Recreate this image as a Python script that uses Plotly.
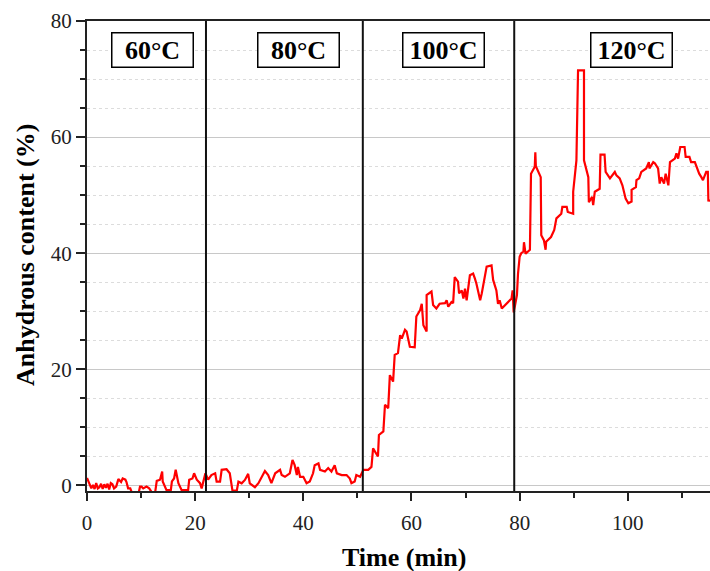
import plotly.graph_objects as go

# Time (min) and anhydrous content (%)
time_min = [
    0.0, 0.3, 0.55, 0.8, 1.1, 1.4, 1.7, 2.0, 2.3, 2.6, 2.9, 3.2, 3.5, 3.8, 4.1, 4.4, 4.7, 5.0, 5.4,
    5.8, 6.3, 6.6, 7.1, 7.3, 7.6, 8.0, 8.4, 9.5, 9.8, 10.1, 10.4, 11.0, 11.5, 12.0, 12.6, 12.9,
    13.5, 13.9, 14.0, 14.7, 15.5, 15.7, 16.1, 16.4, 16.9, 17.5, 18.7, 18.9, 19.5, 19.8, 20.3,
    20.9, 21.2, 21.6, 21.9, 22.4,
    23.0, 23.7, 23.97, 24.6, 24.9, 25.8, 26.4, 26.9, 27.7, 28.0, 28.6, 29.2, 29.8, 30.1, 31.05,
    31.7, 32.6, 32.9, 33.5, 34.1, 34.8, 35.7, 36.0, 36.6, 37.5, 38.0, 38.4, 38.8, 39.0, 39.4,
    40.0, 40.6, 41.2, 41.8, 42.1, 42.8, 43.1, 44.0, 44.6, 45.2, 45.8, 46.2, 47.1, 48.0, 48.6,
    48.9, 49.5, 49.8, 50.5, 51.1,
    52.0, 52.6, 52.9, 53.8, 53.98, 54.8, 55.1, 55.7, 56.0, 56.6, 56.9, 57.5, 57.9, 58.2, 58.8,
    59.1, 59.7, 60.6, 60.9, 61.6, 61.9, 62.2, 62.8, 62.8, 63.7, 64.0, 64.6, 65.2, 66.2, 66.5,
    66.8, 67.4, 67.7, 68.0, 68.6, 68.8, 69.3, 69.6, 69.9, 70.2, 70.8, 71.4, 71.7, 72.0, 72.7,
    73.0, 73.9, 74.8, 75.1, 75.7, 76.0, 76.3, 76.7, 77.3, 77.9, 78.5, 78.7, 78.9, 79.5, 79.7,
    80.0, 80.3, 80.7, 80.8, 81.1, 81.9, 82.1, 82.8, 82.9, 83.0, 83.9, 84.0, 84.5, 84.8, 84.9,
    85.8, 86.4, 86.8, 87.7, 87.9, 88.7, 88.9, 89.9, 89.9, 90.5, 90.8, 91.9, 91.9, 92.7, 92.8,
    93.4, 93.6, 93.9, 94.8, 94.95, 95.7, 95.9, 96.7, 97.6, 97.9, 98.5, 99.0, 99.6, 100.1, 100.7,
    100.7, 101.5, 101.6, 102.1, 102.5, 103.4, 103.9, 104.0, 104.7, 105.0, 105.6, 105.9, 106.2,
    106.7, 107.0, 107.5, 107.8, 108.7, 109.0, 109.3, 109.7, 110.5, 110.7, 111.4, 111.7, 112.4,
    112.7, 113.2, 113.6, 113.9, 114.5, 114.8, 114.9, 116.0,
]
anhydrous_pct = [
    1.3, 0.5, 0.1, -0.5, 0.1, -0.6, 0.4, -0.5, -0.3, 0.3, -0.6, 0.2, -0.4, 0.3, -0.7, 0.4, 0.2, -0.5, -0.2,
    1.1, 0.6, 1.2, 1.0, 0.6, -0.5, -0.5, -1.5, -1.5, -0.2, -0.2, -0.5, -0.2, -0.5, -1.2, -1.2, 0.8,
    1.0, 2.4, 0.7, -0.8, -0.8, 0.7, 1.2, 2.7, 0.4, -0.8, -0.8, 1.0, 1.2, 2.1, 1.0,
    0.4, -0.5, 1.2, 2.1, 1.0,
    1.8, 2.1, 0.66, 0.66, 2.7, 2.8, 2.1, -0.9, -0.9, 0.66, 0.37, 0.95, 2.0, 0.37, -0.3,
    0.4, 2.1, 2.5, 1.8, 0.4, 2.1, 2.7, 1.8, 1.5, 2.1, 4.4, 3.5, 1.8, 3.2, 1.5,
    1.5, 0.4, 0.7, 2.1, 3.5, 3.8, 2.7, 2.4, 3.0, 2.4, 3.5, 2.1, 1.8, 1.8, 1.2,
    0.4, 0.7, 1.8, 1.5, 2.7,
    2.7, 3.2, 6.4, 5.0, 8.7, 9.3, 13.9, 13.3, 19.0, 17.9, 22.5, 22.8, 25.9, 25.3, 26.8,
    26.5, 23.9, 23.8, 29.1, 30.2, 31.3, 27.6, 26.5, 32.8, 33.4, 31.1, 30.5, 31.3, 31.4, 31.9,
    30.8, 31.6, 31.4, 35.9, 35.1, 33.1, 33.6, 32.2, 33.9, 31.9, 36.2, 36.5, 35.7, 34.8, 31.9,
    33.1, 37.7, 37.9, 35.4, 33.6, 31.3, 31.9, 30.5, 31.1, 31.6, 32.2, 33.6, 29.8, 32.8, 36.5,
    39.4, 40.0, 40.3, 41.9, 39.9, 40.6, 53.7, 54.9, 57.4, 55.0, 53.1, 43.1, 42.2, 40.6, 42.0,
    42.8, 44.0, 46.0, 46.8, 48.0, 48.0, 47.1, 46.8, 50.6, 56.0, 71.5, 71.5, 56.0, 53.1, 48.8,
    49.7, 48.3, 50.6, 51.1, 57.0, 57.0, 54.0, 52.9, 54.0, 53.4, 52.9, 51.7, 49.4, 48.6, 48.9,
    50.9, 51.4, 52.6, 52.9, 54.0, 54.6, 55.7, 54.6, 55.7, 55.5, 54.6, 52.0, 53.1,
    52.0, 53.7, 51.7, 55.7, 56.3, 57.2, 56.3, 58.3, 58.3, 56.6, 56.6, 55.7, 55.7,
    54.9, 53.7, 53.1, 52.6, 54.0, 54.0, 49.1, 49.0,
]

# Temperature stage boundaries and labels
stage_boundaries = [22, 51, 79]
stage_labels = ["60°C", "80°C", "100°C", "120°C"]
stage_label_x = [12.2, 39.2, 66.0, 100.7]
stage_label_y = 75.0

x_tick_vals = [0, 20, 40, 60, 80, 100]
y_tick_vals = [0, 20, 40, 60, 80]
x_title = "Time (min)"
y_title = "Anhydrous content (%)"

FONT = "Liberation Serif, Times New Roman, serif"
Y_MIN, Y_MAX = -0.95, 80
X_MIN, X_MAX = 0, 115.2

fig = go.Figure()
fig.add_trace(go.Scatter(
    x=time_min, y=anhydrous_pct, mode="lines",
    line=dict(color="#ff0000", width=2.2),
    showlegend=False, hoverinfo="skip",
))

for xb in stage_boundaries:
    fig.add_shape(type="line", xref="x", yref="y", x0=xb, x1=xb, y0=Y_MIN, y1=Y_MAX,
                  line=dict(color="#111111", width=2), layer="above")

for lab, lx in zip(stage_labels, stage_label_x):
    fig.add_annotation(
        x=lx, y=stage_label_y, xref="x", yref="y", text=lab, showarrow=False,
        font=dict(family=FONT, size=26, color="black", weight="bold"),
        bordercolor="black", borderwidth=1.5, borderpad=1, bgcolor="white",
        width=78, height=31,
    )

# axis titles placed as paper annotations for exact positioning
fig.add_annotation(
    x=(404 - 87) / 623, y=0, xref="paper", yref="paper", yshift=-66,
    text=x_title, showarrow=False, xanchor="center", yanchor="middle",
    font=dict(family=FONT, size=26, color="black", weight="bold"),
)
fig.add_annotation(
    x=0, y=(491 - 255) / 470, xref="paper", yref="paper", xshift=-62,
    text=y_title, showarrow=False, xanchor="center", yanchor="middle", textangle=-90,
    font=dict(family=FONT, size=26, color="black", weight="bold"),
)

fig.update_layout(
    width=710, height=571,
    margin=dict(l=87, r=0, t=21, b=80),
    paper_bgcolor="white", plot_bgcolor="white",
    font=dict(family=FONT, size=21, color="#222222"),
    xaxis=dict(
        range=[X_MIN, X_MAX], tickvals=x_tick_vals, automargin=False,
        ticks="outside", ticklen=8, tickwidth=2, tickcolor="#222222", ticklabelstandoff=4,
        showline=True, linecolor="#222222", linewidth=2, mirror=True,
        showgrid=False, zeroline=False,
        minor=dict(dtick=10, tick0=0, ticks="outside", ticklen=5, tickwidth=2, tickcolor="#222222", showgrid=False),
        tickfont=dict(family=FONT, size=21, color="#222222"),
    ),
    yaxis=dict(
        range=[Y_MIN, Y_MAX], tickvals=y_tick_vals, automargin=False,
        ticks="outside", ticklen=9, tickwidth=2, tickcolor="#222222",
        showline=True, linecolor="#222222", linewidth=2, mirror=False,
        showgrid=True, gridcolor="#c8c8c8", gridwidth=1, zeroline=False,
        minor=dict(dtick=5, tick0=0, ticks="outside", ticklen=5, tickwidth=2, tickcolor="#222222",
                   showgrid=True, gridcolor="#dcdcdc", gridwidth=1, griddash="dot"),
        tickfont=dict(family=FONT, size=21, color="#222222"),
    ),
)

# remove the page's default body margin so the 710x571 figure fills the window exactly
fig.write_html(
    "out.html",
    config={"displayModeBar": False},
    post_script="document.body.style.margin='0';document.body.style.overflow='hidden';",
)
